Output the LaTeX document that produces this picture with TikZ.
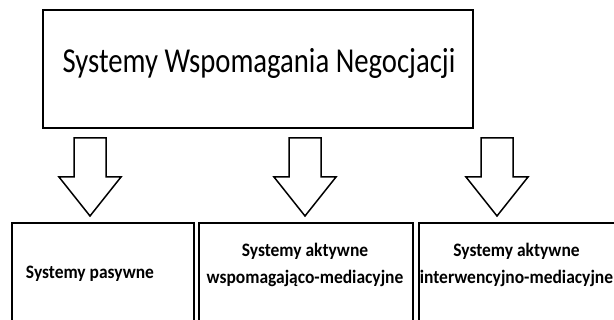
\documentclass[tikz,border=0pt]{standalone}
\usepackage{fontspec}
\setmainfont{Carlito}
\begin{document}
\begin{tikzpicture}[x=1pt,y=-1pt,
  box/.style={draw,line width=1.8pt},
  blockarrow/.style={draw,line width=1.5pt,line join=miter,fill=white},
  bigtext/.style={font=\fontsize{35}{42}\selectfont,xscale=0.82,transform shape},
  smalltext/.style={font=\bfseries\fontsize{19}{27}\selectfont,align=center,inner sep=0pt,xscale=0.92,transform shape}]
\useasboundingbox (0,0) rectangle (614,320);
\clip (0,0) rectangle (614,320);
% top box
\draw[box] (43,10) rectangle (473,128);
\node[bigtext] (top) at (259,63) {Systemy Wspomagania Negocjacji};
% bottom boxes
\draw[box] (12,223) rectangle (194,330);
\draw[box] (199,223) rectangle (413,330);
\draw[box] (419,223) rectangle (630,330);
\node[smalltext] (b1) at (90,274) {Systemy pasywne};
\node[smalltext] (b2) at (305,265) {Systemy aktywne\\wspomagająco-mediacyjne};
\node[smalltext] (b3) at (516.5,265) {Systemy aktywne\\interwencyjno-mediacyjne};
% block arrows
\foreach \c/\n in {90/a1,305/a2,497/a3}{
  \draw[blockarrow] (\c-16,138) -- (\c+16,138) -- (\c+16,177) -- (\c+31,177)
     -- (\c,216) -- (\c-31,177) -- (\c-16,177) -- cycle;
}
\end{tikzpicture}
\end{document}
